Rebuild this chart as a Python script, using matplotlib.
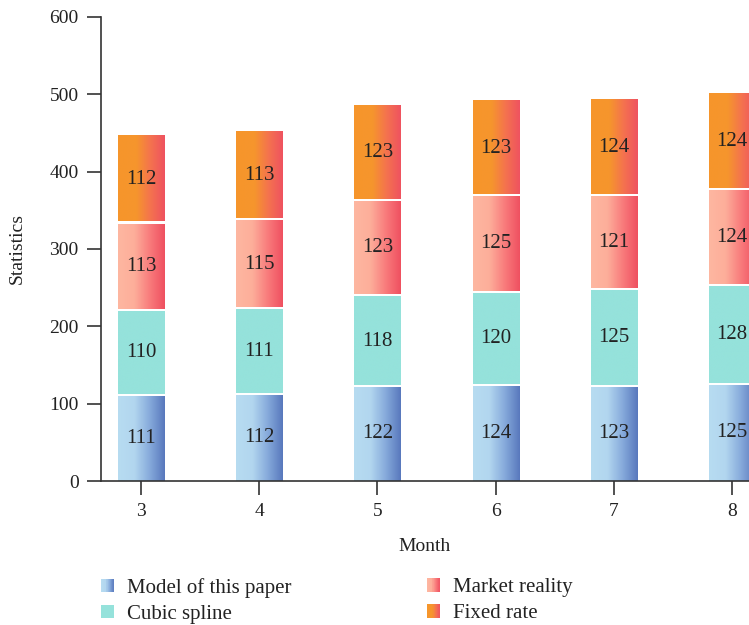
import numpy as np
import matplotlib
matplotlib.use("Agg")
import matplotlib.pyplot as plt
from matplotlib.colors import LinearSegmentedColormap
from matplotlib.legend_handler import HandlerBase
from matplotlib.patches import Rectangle, Patch

plt.rcParams['font.family'] = ['Liberation Serif', 'DejaVu Serif']

months = [3, 4, 5, 6, 7, 8]
series_names = ["Model of this paper", "Cubic spline", "Market reality", "Fixed rate"]
model_vals = [111, 112, 122, 124, 123, 125]
cubic_vals = [110, 111, 118, 120, 125, 128]
market_vals = [113, 115, 123, 125, 121, 124]
fixed_vals = [112, 113, 123, 123, 124, 124]

cmaps = [
    LinearSegmentedColormap.from_list("m", [(0, '#b7dcf1'), (0.35, '#b2d6ef'), (0.65, '#8aaedd'), (1.0, '#5878bd')]),
    LinearSegmentedColormap.from_list("c", [(0, '#95e2db'), (1.0, '#95e2db')]),
    LinearSegmentedColormap.from_list("r", [(0, '#feb7a1'), (0.35, '#fdae9a'), (0.7, '#f8787a'), (1.0, '#ef5060')]),
    LinearSegmentedColormap.from_list("f", [(0, '#f6962b'), (0.4, '#f6952d'), (0.7, '#f4724f'), (1.0, '#ef5260')]),
]

fig = plt.figure(figsize=(7.49, 6.25), dpi=100)
ax = fig.add_axes([101/749, 1-481/625, 1-101/749, 464/625])

width = 0.39
gap = 3.2  # white separation between stacked segments (data units)
grad = np.linspace(0, 1, 256).reshape(1, -1)
all_vals = [model_vals, cubic_vals, market_vals, fixed_vals]
bottoms = np.zeros(len(months))
nser = len(all_vals)
for k, (vals, cmap) in enumerate(zip(all_vals, cmaps)):
    for x, b, v in zip(months, bottoms, vals):
        y0 = b + (gap/2 if k > 0 else 0)
        y1 = b + v - (gap/2 if k < nser - 1 else 0)
        ax.imshow(grad, extent=(x - width/2, x + width/2, y0, y1), aspect='auto',
                  cmap=cmap, interpolation='bilinear', zorder=2)
        ax.text(x, b + v/2, str(v), ha='center', va='center', fontsize=15, color='#222222', zorder=4)
    bottoms = bottoms + np.array(vals)

ax.set_xlim(2.66, 8.144)
ax.set_ylim(0, 600)
ax.set_xticks(months)
ax.set_yticks([0, 100, 200, 300, 400, 500, 600])
for s in ['top', 'right']:
    ax.spines[s].set_visible(False)
for s in ['left', 'bottom']:
    ax.spines[s].set_color('#333333')
    ax.spines[s].set_linewidth(1.2)
    ax.spines[s].set_zorder(5)
ax.tick_params(direction='out', length=10, width=1.2, color='#333333', labelsize=14,
               labelcolor='#222222', pad=6)
ax.set_xlabel("Month", fontsize=14, color='#222222', labelpad=13)
ax.set_ylabel("Statistics", fontsize=14, color='#222222', labelpad=17)


class GradHandler(HandlerBase):
    def __init__(self, cmap):
        super().__init__()
        self.cmap = cmap

    def create_artists(self, legend, orig_handle, xdescent, ydescent, width, height, fontsize, trans):
        n = 24
        arts = []
        for i in range(n):
            r = Rectangle((-xdescent + width*i/n, -ydescent), width/n*1.05, height,
                          facecolor=self.cmap((i + 0.5)/n), edgecolor='none', transform=trans)
            arts.append(r)
        return arts


handles = [Patch(label=n) for n in series_names]
hmap = {h: GradHandler(c) for h, c in zip(handles, cmaps)}
common = dict(loc='upper left', frameon=False, fontsize=15, borderpad=0, borderaxespad=0,
              handlelength=0.63, handleheight=0.63, handletextpad=0.63, labelspacing=0.33,
              labelcolor='#222222')
leg1 = fig.legend([handles[0], handles[1]], [series_names[0], series_names[1]],
                  bbox_to_anchor=(101/749, 1-578/625), handler_map=hmap, **common)
leg2 = fig.legend([handles[2], handles[3]], [series_names[2], series_names[3]],
                  bbox_to_anchor=(427/749, 1-578/625), handler_map=hmap, **common)

fig.savefig("out.png", dpi=100)
